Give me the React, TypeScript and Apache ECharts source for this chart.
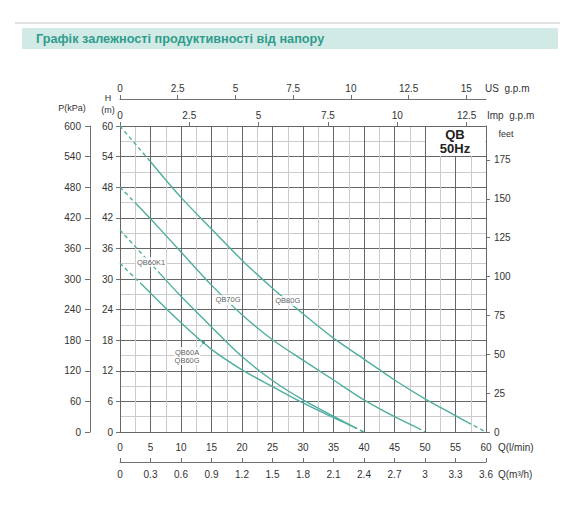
import { useEffect, useRef } from 'react';
import * as echarts from 'echarts';

// flow Q (l/min) vs head H (m)
const QB80G = [[0, 60], [5, 53], [10, 46], [15, 39.8], [20, 33.7], [25, 28.2], [30, 23.2], [35, 18.4], [40, 14.3], [45, 10.2], [50, 6.5], [55, 3.2], [57, 1.9], [60, 0]];
const QB70G = [[0, 48], [2.6, 44.8], [5, 41.8], [10, 35.3], [15, 28.8], [20, 23], [25, 18.1], [30, 14.1], [35, 10.2], [40, 6.3], [45, 3.0], [48.8, 0.8], [50, 0]];
const QB60K1 = [[0, 39.6], [6.6, 31], [10, 26.6], [15, 20.6], [20, 14.8], [25, 10.1], [30, 6.3], [35, 3.1], [38.3, 1.0], [40, 0]];
const QB60A = [[0, 33.1], [3.5, 29], [10, 21.4], [15, 16.2], [20, 12.2], [25, 8.9], [30, 5.7], [35, 2.8], [38.3, 1.0], [40, 0]];

// index range of the solid (working) part of each curve, the rest is dashed
const CURVES = [
  { name: 'QB80G', data: QB80G, solid: [1, 12] },
  { name: 'QB70G', data: QB70G, solid: [1, 11] },
  { name: 'QB60K1', data: QB60K1, solid: [1, 8] },
  { name: 'QB60A', data: QB60A, solid: [1, 8] },
];

// curve captions, in chart units
const CAPTIONS = [
  [5.1, 33.3, 'QB60K1'],
  [17.7, 25.9, 'QB70G'],
  [27.5, 25.7, 'QB80G'],
  [11.0, 14.9, 'QB60A\nQB60G'],
];
const LEADER = [[12.9, 16.3], [13.7, 17.6]];

const US_TICKS = [0, 2.5, 5, 7.5, 10, 12.5, 15];
const IMP_TICKS = [0, 2.5, 5, 7.5, 10, 12.5];
const FEET_TICKS = [0, 25, 50, 75, 100, 125, 150, 175];

const FONT = 'Liberation Sans, Arial, sans-serif';
const TEXT = '#333';
const CURVE = '#4fae9e';
const DARK = '#666';
const LIGHT = '#cbcbcb';
const AXIS = '#707070';

export default function App() {
  const chartRef = useRef<HTMLDivElement>(null);

  useEffect(() => {
    if (!chartRef.current) return;
    const chart = echarts.init(chartRef.current, null, { renderer: 'svg' });

    const lineSeries: any[] = [];
    CURVES.forEach(c => {
      const [a, b] = c.solid;
      const parts = [
        { d: c.data.slice(0, a + 1), dashed: true },
        { d: c.data.slice(a, b + 1), dashed: false },
        { d: c.data.slice(b), dashed: true },
      ];
      parts.forEach(p => {
        lineSeries.push({
          name: c.name,
          type: 'line',
          data: p.d,
          smooth: 0.3,
          symbol: 'none',
          silent: true,
          z: 3,
          lineStyle: { color: CURVE, width: 1.4, type: p.dashed ? [4, 3] : 'solid' },
        });
      });
    });

    const tickLabel = { color: TEXT, fontSize: 10, fontFamily: FONT };
    const line = (color: string) => ({ show: true, onZero: false, lineStyle: { color, width: 1 } });

    const option: any = {
      animation: false,
      backgroundColor: '#fff',
      textStyle: { fontFamily: FONT },
      grid: { left: 120, top: 126, width: 366, height: 306, containLabel: false, outerBoundsMode: 'none' },
      xAxis: [
        {
          type: 'value', position: 'bottom', min: 0, max: 60, interval: 5,
          axisLine: line(DARK),
          axisTick: { show: false },
          axisLabel: { ...tickLabel, margin: 10 },
          splitLine: { show: true, lineStyle: { color: DARK, width: 1 } },
          minorTick: { show: false, splitNumber: 2 },
          minorSplitLine: { show: true, lineStyle: { color: LIGHT, width: 1 } },
        },
        {
          type: 'value', position: 'bottom', offset: 30, min: 0, max: 3.6, interval: 0.3,
          axisLine: line(AXIS),
          axisTick: { show: true, inside: true, length: 4, lineStyle: { color: AXIS } },
          axisLabel: { ...tickLabel, margin: 7, formatter: (v: number) => String(Math.round(v * 10) / 10) },
          splitLine: { show: false },
        },
        {
          type: 'value', position: 'top', offset: 27, min: 0, max: 60 / 3.785411784,
          axisLine: line(AXIS),
          axisTick: { show: true, length: 4, customValues: US_TICKS, lineStyle: { color: AXIS } },
          axisLabel: { ...tickLabel, margin: 6, customValues: US_TICKS },
          splitLine: { show: false },
        },
        {
          type: 'value', position: 'top', offset: 0, min: 0, max: 60 / 4.54609,
          axisLine: line(DARK),
          axisTick: { show: true, length: 4, customValues: IMP_TICKS, lineStyle: { color: AXIS } },
          axisLabel: { ...tickLabel, margin: 6, customValues: IMP_TICKS },
          splitLine: { show: false },
        },
      ],
      yAxis: [
        {
          type: 'value', position: 'left', min: 0, max: 60, interval: 6,
          axisLine: line(DARK),
          axisTick: { show: true, length: 4, lineStyle: { color: AXIS } },
          axisLabel: { ...tickLabel, margin: 7 },
          splitLine: { show: true, lineStyle: { color: DARK, width: 1 } },
          minorTick: { show: false, splitNumber: 2 },
          minorSplitLine: { show: true, lineStyle: { color: LIGHT, width: 1 } },
        },
        {
          type: 'value', position: 'left', offset: 30, min: 0, max: 600, interval: 60,
          axisLine: line(AXIS),
          axisTick: { show: true, length: 5, lineStyle: { color: AXIS } },
          axisLabel: { ...tickLabel, margin: 9 },
          splitLine: { show: false },
        },
        {
          type: 'value', position: 'right', min: 0, max: 60 / 0.3048,
          axisLine: line(DARK),
          axisTick: { show: true, length: 4, customValues: FEET_TICKS, lineStyle: { color: AXIS } },
          axisLabel: { ...tickLabel, margin: 8, customValues: FEET_TICKS },
          splitLine: { show: false },
        },
      ],
      series: [
        ...lineSeries,
        {
          type: 'line',
          data: LEADER,
          symbol: 'none',
          silent: true,
          z: 4,
          lineStyle: { color: CURVE, width: 0.8 },
        },
        {
          type: 'scatter',
          data: [LEADER[1]],
          symbolSize: 3,
          silent: true,
          z: 4,
          itemStyle: { color: '#3f8f80' },
        },
        {
          type: 'scatter',
          data: CAPTIONS,
          symbolSize: 0,
          silent: true,
          z: 5,
          label: {
            show: true,
            position: 'inside',
            formatter: (p: any) => p.data[2],
            color: TEXT,
            fontSize: 7.5,
            lineHeight: 8,
            fontFamily: FONT,
            backgroundColor: '#fff',
            padding: [1, 1],
          },
        },
      ],
      graphic: [
        { type: 'rect', shape: { x: 15, y: 22, width: 545, height: 2 }, style: { fill: '#e2e2e2' }, silent: true },
        { type: 'rect', shape: { x: 22, y: 28, width: 536, height: 21 }, style: { fill: '#d2eae6' }, silent: true },
        {
          type: 'text', x: 36, y: 39,
          style: { text: 'Графік залежності продуктивності від напору', fill: '#2f9c8b', font: `bold 12.7px ${FONT}`, verticalAlign: 'middle' },
        },
        { type: 'rect', z: 5, shape: { x: 426, y: 127, width: 59, height: 29 }, style: { fill: '#fff' }, silent: true },
        { type: 'text', z: 6, x: 455, y: 134, style: { text: 'QB', fill: '#222', font: `bold 13px ${FONT}`, align: 'center', verticalAlign: 'middle' } },
        { type: 'text', z: 6, x: 455, y: 148.5, style: { text: '50Hz', fill: '#222', font: `bold 13px ${FONT}`, align: 'center', verticalAlign: 'middle' } },
        { type: 'text', x: 72, y: 108, style: { text: 'P(kPa)', fill: TEXT, font: `9px ${FONT}`, align: 'center', verticalAlign: 'middle' } },
        { type: 'text', x: 108, y: 98, style: { text: 'H', fill: TEXT, font: `normal 9px ${FONT}`, align: 'center', verticalAlign: 'middle' } },
        { type: 'text', x: 108, y: 110, style: { text: '(m)', fill: TEXT, font: `9px ${FONT}`, align: 'center', verticalAlign: 'middle' } },
        { type: 'text', x: 485, y: 88, style: { text: 'US  g.p.m', fill: TEXT, font: `10px ${FONT}`, verticalAlign: 'middle' } },
        { type: 'text', x: 487, y: 115, style: { text: 'Imp  g.p.m', fill: TEXT, font: `10px ${FONT}`, verticalAlign: 'middle' } },
        { type: 'text', x: 506, y: 134, style: { text: 'feet', fill: TEXT, font: `9px ${FONT}`, align: 'center', verticalAlign: 'middle' } },
        { type: 'text', x: 498, y: 447, style: { text: 'Q(l/min)', fill: TEXT, font: `10px ${FONT}`, verticalAlign: 'middle' } },
        { type: 'text', x: 498, y: 474, style: { text: 'Q(m³/h)', fill: TEXT, font: `10px ${FONT}`, verticalAlign: 'middle' } },
      ],
    };

    chart.setOption(option);

    return () => {
      chart.dispose();
    };
  }, []);

  return <div ref={chartRef} style={{ position: 'absolute', left: 0, top: 0, width: 570, height: 511 }} />;
}
